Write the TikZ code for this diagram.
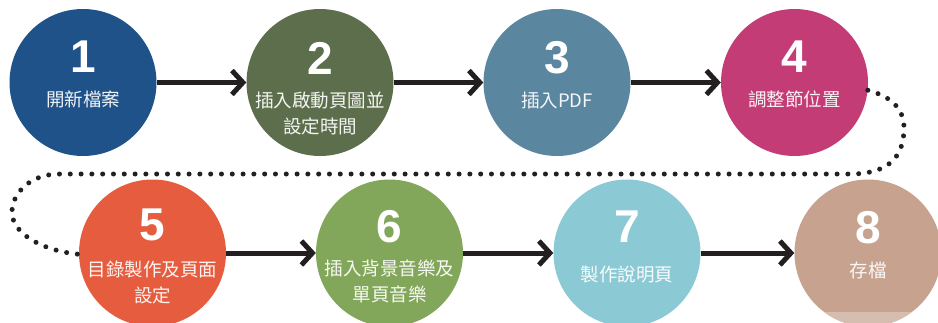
\documentclass[tikz,border=0pt]{standalone}
\usepackage{fontspec}
\setmainfont{Liberation Sans}
\newfontfamily\cjk{Noto Sans CJK TC}
\usetikzlibrary{arrows.meta}
\definecolor{cA}{HTML}{1F5289}
\definecolor{cB}{HTML}{5C6E4B}
\definecolor{cC}{HTML}{5A869F}
\definecolor{cD}{HTML}{C43C75}
\definecolor{cE}{HTML}{E65C3F}
\definecolor{cF}{HTML}{83A75A}
\definecolor{cG}{HTML}{8BCAD5}
\definecolor{cH}{HTML}{C6A28F}
\definecolor{cHlight}{HTML}{D5BDB0}
\definecolor{ink}{HTML}{231F20}
\begin{document}
\begin{tikzpicture}[x=1pt,y=-1pt,
  disc/.style={circle, minimum size=147pt, inner sep=0pt, draw=none},
  num/.style={text=white, inner sep=0pt, font=\fontsize{46}{46}\selectfont\bfseries},
  lab/.style={text=white, text opacity=0.93, inner sep=0pt, align=center, font=\cjk\fontsize{18.5}{26.5}\selectfont},
  flow/.style={draw=ink, line width=5pt, -{Straight Barb[length=11pt,width=24pt,line width=5pt]}},
  dotline/.style={draw=ink, line width=5pt, line cap=round, dash pattern=on 0pt off 10.8pt}
]
\useasboundingbox (0,0) rectangle (938,322);
\clip (0,0) rectangle (938,322);
\fill[white] (0,0) rectangle (938,322);

% row 1
\node[disc, fill=cA] (c1) at (83,82.5) {};
\node[disc, fill=cB] (c2) at (320,82.5) {};
\node[disc, fill=cC] (c3) at (557,82.5) {};
\node[disc, fill=cD] (c4) at (794.5,82.5) {};
% row 2
\node[disc, fill=cE] (c5) at (152.5,253) {};
\node[disc, fill=cF] (c6) at (389.5,253) {};
\node[disc, fill=cG] (c7) at (627,253) {};
\node[disc, fill=cH] (c8) at (868,253) {};
\begin{scope}
  \clip (868,253) circle (73.5pt);
  \fill[cHlight] (780,312) rectangle (938,330);
\end{scope}

% numbers
\node[num] (n1) at (83,57) {1};
\node[num] (n2) at (320,58) {2};
\node[num] (n3) at (557,58) {3};
\node[num] (n4) at (794.5,57) {4};
\node[num] (n5) at (152.5,225) {5};
\node[num] (n6) at (389.5,226.5) {6};
\node[num] (n7) at (627,226.5) {7};
\node[num] (n8) at (868,228) {8};

% labels
\node[lab] (t1) at (83,99.5) {開新檔案};
\node[lab] (t2) at (320,113.5) {插入啟動頁圖並\\設定時間};
\node[lab] (t3) at (557,100) {插入PDF};
\node[lab] (t4) at (794.5,99.5) {調整節位置};
\node[lab] (t5) at (152.5,282.5) {目錄製作及頁面\\設定};
\node[lab] (t6) at (389.5,281.5) {插入背景音樂及\\單頁音樂};
\node[lab] (t7) at (627,275) {製作說明頁};
\node[lab] (t8) at (868,270) {存檔};

% connectors
\draw[flow] (c1) -- (c2);
\draw[flow] (c2) -- (c3);
\draw[flow] (c3) -- (c4);
\draw[flow] (c5) -- (c6);
\draw[flow] (c6) -- (c7);
\draw[flow] (c7) -- (c8);

\draw[dotline] (c4.-6) .. controls (893,97) and (904,110) .. (904,128)
  .. controls (904,160) and (885,174) .. (850,174)
  -- (60,174)
  .. controls (28,174) and (12,195) .. (12,212)
  .. controls (12,235) and (45,251) .. (c5.181);
\end{tikzpicture}
\end{document}
